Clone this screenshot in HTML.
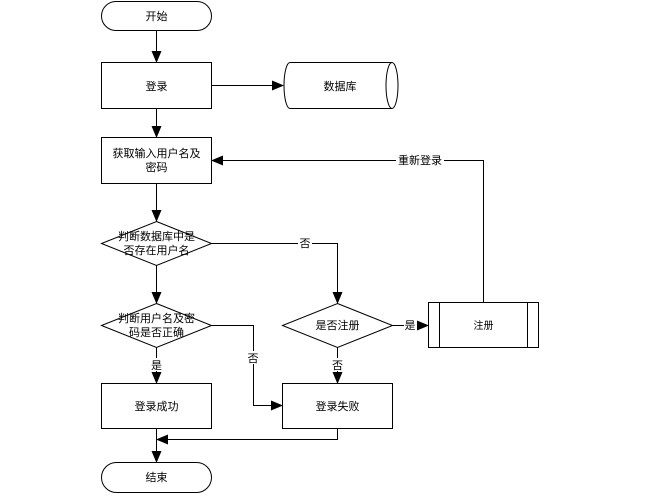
<!DOCTYPE html>
<html><head><meta charset="utf-8"><style>
body{margin:0;background:#fff;}
svg text{font-family:"Liberation Sans","Noto Sans CJK SC",sans-serif;font-size:11px;fill:#000;}
</style></head><body>
<svg width="653" height="497" viewBox="0 0 653 497" xmlns="http://www.w3.org/2000/svg">
<defs><marker id="a" markerWidth="12" markerHeight="10" refX="11" refY="5" orient="auto" markerUnits="userSpaceOnUse"><path d="M0,0 L12,5 L0,10 Z" fill="#000"/></marker></defs>
<g stroke="#000" stroke-width="1" fill="#fff">
<rect x="101.5" y="1.5" width="110" height="29" rx="14.5"/>
<rect x="101.5" y="62.5" width="110" height="46"/>
<path d="M290,62.5 L392,62.5 A6,23 0 0 1 392,108.5 L290,108.5 A6,23 0 0 1 290,62.5 Z"/>
<path d="M392,62.5 A6,23 0 0 0 392,108.5" fill="none"/>
<rect x="101.5" y="137.5" width="110" height="46"/>
<path d="M156.5,221.5 L211.5,243.5 L156.5,265.5 L101.5,243.5 Z"/>
<path d="M156.5,303.5 L211.5,325.5 L156.5,347.5 L101.5,325.5 Z"/>
<path d="M337.5,303.5 L392.5,325.5 L337.5,347.5 L282.5,325.5 Z"/>
<rect x="428.5" y="302.5" width="110" height="45"/>
<line x1="439.5" y1="302.5" x2="439.5" y2="347.5"/>
<line x1="527.5" y1="302.5" x2="527.5" y2="347.5"/>
<rect x="101.5" y="383.5" width="110" height="45"/>
<rect x="282.5" y="383.5" width="110" height="45"/>
<rect x="101.5" y="462.5" width="110" height="30" rx="15"/>
</g>
<g stroke="#000" stroke-width="1" fill="none" marker-end="url(#a)">
<line x1="156.5" y1="30" x2="156.5" y2="62"/>
<line x1="211.5" y1="85.5" x2="283" y2="85.5"/>
<line x1="156.5" y1="108" x2="156.5" y2="137"/>
<line x1="156.5" y1="183" x2="156.5" y2="221"/>
<line x1="156.5" y1="265" x2="156.5" y2="303"/>
<line x1="156.5" y1="347" x2="156.5" y2="383"/>
<polyline points="211.5,243.5 337.5,243.5 337.5,303"/>
<polyline points="211.5,325.5 253.5,325.5 253.5,405.5 282,405.5"/>
<line x1="337.5" y1="347" x2="337.5" y2="383"/>
<line x1="392.5" y1="325.5" x2="428" y2="325.5"/>
<polyline points="483.5,302 483.5,160.5 212,160.5"/>
<polyline points="337.5,428 337.5,439.5 157,439.5"/>
<line x1="156.5" y1="428" x2="156.5" y2="462"/>
</g>
<g text-anchor="middle">
<text x="156.5" y="20">开始</text>
<text x="156.5" y="90">登录</text>
<text x="340" y="90">数据库</text>
<text x="156.5" y="157">获取输入用户名及</text>
<text x="156.5" y="171">密码</text>
<text x="156.5" y="240">判断数据库中是</text>
<text x="156.5" y="254">否存在用户名</text>
<text x="156.5" y="322">判断用户名及密</text>
<text x="156.5" y="336">码是否正确</text>
<text x="337.5" y="329">是否注册</text>
<text x="483.5" y="329" style="font-size:10px">注册</text>
<text x="156.5" y="410">登录成功</text>
<text x="337.5" y="410">登录失败</text>
<text x="156.5" y="481">结束</text>
</g>
<g text-anchor="middle">
<rect x="396" y="153" width="48" height="14" fill="#fff"/>
<text x="420" y="164">重新登录</text>
<rect x="298" y="237" width="14" height="13" fill="#fff"/>
<text x="305" y="247">否</text>
<rect x="246" y="351" width="14" height="13" fill="#fff"/>
<text x="253" y="362">否</text>
<rect x="149" y="358" width="14" height="13" fill="#fff"/>
<text x="156.5" y="369">是</text>
<rect x="330" y="358" width="14" height="13" fill="#fff"/>
<text x="337.5" y="369">否</text>
<rect x="404" y="319" width="13" height="13" fill="#fff"/>
<text x="410" y="329">是</text>
</g>
</svg>
</body></html>
